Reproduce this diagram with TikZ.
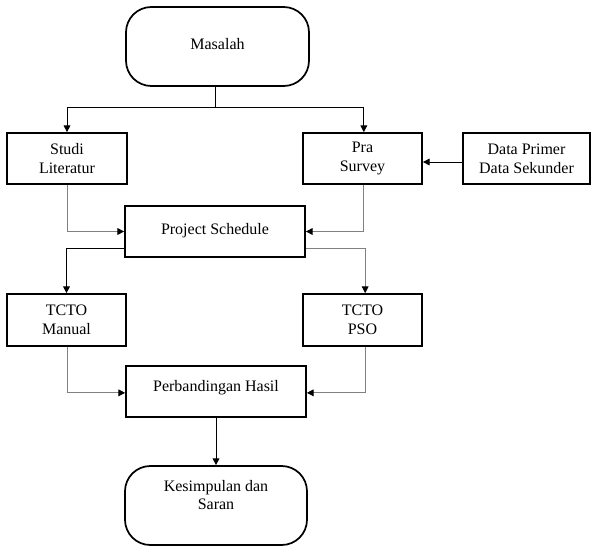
\documentclass[tikz,border=0pt]{standalone}
\usepackage{fontspec}
\setmainfont{Liberation Serif}
\newfontfamily\diagfont{Liberation Serif}
\usetikzlibrary{arrows.meta}
\begin{document}
\begin{tikzpicture}[x=0.75pt,y=-0.75pt,
  box/.style={draw, line width=1.3pt, align=center, font=\diagfont\fontsize{12}{14}\selectfont, inner sep=0pt},
  term/.style={box, rounded corners=19pt},
  arr/.style={-{Triangle[length=5pt,width=5pt,color=black]}, line width=0.7pt},
  garr/.style={arr, draw=black!50}]
\useasboundingbox (0,0) rectangle (591,546);
\node[term, minimum width=137.25pt, minimum height=59.25pt, text depth=4pt] (masalah) at (217.5,46.5) {Masalah};
\node[box, minimum width=90pt, minimum height=38.25pt] (studi) at (67,158.5) {Studi\\Literatur};
\node[box, minimum width=89.25pt, minimum height=38.25pt] (pra) at (362.5,158.5) {Pra\\Survey};
\node[box, minimum width=95.25pt, minimum height=38.25pt] (data) at (526.5,158.5) {Data Primer\\Data Sekunder};
\node[box, minimum width=135pt, minimum height=38.25pt, text depth=4pt] (project) at (215,231.5) {Project Schedule};
\node[box, minimum width=89.25pt, minimum height=39pt] (manual) at (66.5,320) {TCTO\\Manual};
\node[box, minimum width=89.25pt, minimum height=39pt] (pso) at (362.5,320) {TCTO\\PSO};
\node[box, minimum width=135pt, minimum height=38.25pt, text depth=8pt] (perb) at (216,391.5) {Perbandingan Hasil};
\node[term, minimum width=136.5pt, minimum height=59.25pt] (kesimpulan) at (216,505.5) {Kesimpulan dan\\Saran\\[2pt]};
\coordinate (j1) at (215.5,107);
\draw[line width=0.7pt] (j1 |- masalah.south) -- (j1);
\draw[arr] (j1) -| (studi.north);
\draw[arr] (j1) -| ([xshift=1pt]pra.north);
\draw[arr] (data.west |- {(0,162)}) -- (pra.east |- {(0,162)});
\draw[garr] (studi.south) |- (project.west);
\draw[garr] ([xshift=1pt]pra.south) |- (project.east);
\draw[arr] (project.west |- {(0,248)}) -| (manual.north);
\draw[garr] (project.east |- {(0,248)}) -| ([xshift=2pt]pso.north);
\draw[garr] ([xshift=1pt]manual.south) |- ([yshift=-1pt]perb.west);
\draw[garr] ([xshift=2pt]pso.south) |- ([yshift=-1pt]perb.east);
\draw[arr] (perb.south) -- (kesimpulan.north);
\end{tikzpicture}
\end{document}
